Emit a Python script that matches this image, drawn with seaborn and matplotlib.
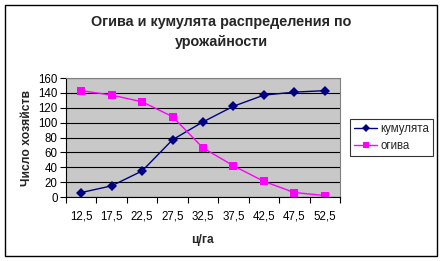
import matplotlib
matplotlib.use("Agg")
import matplotlib.pyplot as plt
import seaborn as sns
import pandas as pd
from matplotlib.patches import Rectangle
from matplotlib.ticker import FixedLocator
from matplotlib.lines import Line2D

categories = ["12,5", "17,5", "22,5", "27,5", "32,5", "37,5", "42,5", "47,5", "52,5"]
cumulative = [6, 15, 35, 77, 101, 122, 137, 141, 143]
ogive = [143, 137, 128, 108, 66, 42, 21, 6, 2]
y_ticks = [0, 20, 40, 60, 80, 100, 120, 140, 160]

sns.set_theme(style="white")
plt.rcParams['font.family'] = ['Liberation Sans', 'DejaVu Sans']

pos = list(range(len(categories)))
df = pd.DataFrame({
    "pos": pos * 2,
    "value": cumulative + ogive,
    "series": ["кумулята"] * len(pos) + ["огива"] * len(pos),
})

fig = plt.figure(figsize=(4.43, 2.61), dpi=100)
fig.patch.set_facecolor("white")
W, H = 443, 261
ax = fig.add_axes([66 / W, 1 - 197 / H, (340 - 66) / W, (197 - 78) / H])
ax.set_facecolor("#c8c8c8")

sns.lineplot(data=df, x="pos", y="value", hue="series", style="series",
             palette={"кумулята": "#000080", "огива": "#ff00ff"},
             markers={"кумулята": "D", "огива": "s"}, dashes=False,
             markersize=5.5, linewidth=1, markeredgewidth=0, ax=ax, legend=False)

ax.set_xlim(-0.5, len(categories) - 0.5)
ax.set_ylim(0, 160)
ax.set_yticks(y_ticks)
ax.set_yticklabels([str(v) for v in y_ticks], fontsize=8.3)
ax.set_xticks(pos)
ax.set_xticklabels(categories, fontsize=8.3)
ax.xaxis.set_minor_locator(FixedLocator([p - 0.5 for p in pos] + [pos[-1] + 0.5]))
ax.tick_params(axis="x", which="major", length=0, pad=10, colors="black")
ax.tick_params(axis="x", which="minor", length=4, width=0.8, direction="out", bottom=True, color="black")
ax.tick_params(axis="y", length=4, width=0.8, direction="out", left=True, pad=2, colors="black")
ax.grid(axis="y", color="black", linewidth=0.8)
ax.set_axisbelow(True)
for side in ["top", "right"]:
    ax.spines[side].set_color("#808080")
    ax.spines[side].set_linewidth(0.8)
for side in ["left", "bottom"]:
    ax.spines[side].set_color("black")
    ax.spines[side].set_linewidth(0.8)

ax.set_xlabel("ц/га", fontsize=8.7, fontweight="bold", labelpad=8)
ax.set_ylabel("Число хозяйств", fontsize=8.7, fontweight="bold", labelpad=4)

fig.text(221 / W, 1 - 32 / H, "Огива и кумулята распределения по\nурожайности",
         ha="center", va="center", fontsize=10.4, fontweight="bold", linespacing=1.5)

handles = [
    Line2D([], [], color="#000080", marker="D", markersize=4.5, linewidth=1, markeredgewidth=0),
    Line2D([], [], color="#ff00ff", marker="s", markersize=4.5, linewidth=1, markeredgewidth=0),
]
leg = fig.legend(handles, ["кумулята", "огива"], loc="upper left",
                 bbox_to_anchor=(350 / W, 1 - 119 / H), frameon=True, fontsize=8.3,
                 handlelength=2.0, handletextpad=0.3, borderpad=0.35, labelspacing=0.45,
                 borderaxespad=0, fancybox=False)
leg.get_frame().set_edgecolor("black")
leg.get_frame().set_linewidth(0.8)

fig.add_artist(Rectangle((5 / W, 1 - 256 / H), (437 - 5) / W, (256 - 5) / H,
                         transform=fig.transFigure, fill=False, edgecolor="black", linewidth=1))

fig.savefig("out.png", dpi=100)
